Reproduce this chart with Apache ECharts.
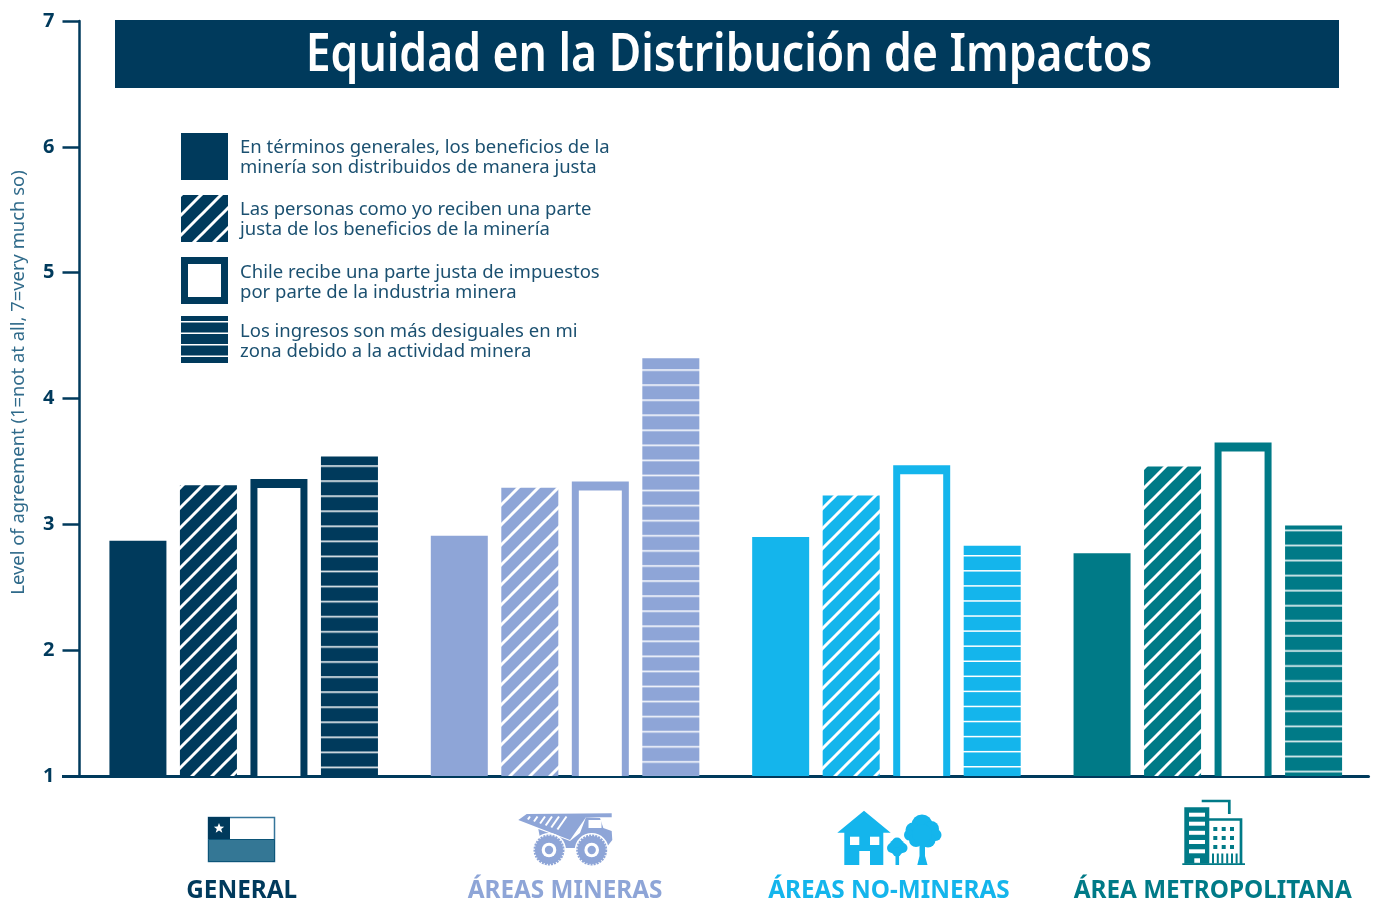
<!DOCTYPE html>
<html>
<head>
<meta charset="utf-8">
<style>html,body{margin:0;padding:0;background:#fff}#chart{width:1376px;height:900px}</style>
<script src="https://cdn.jsdelivr.net/npm/echarts@6/dist/echarts.min.js"></script>
</head>
<body>
<div id="chart"></div>
<script>
const categories = ['GENERAL', 'ÁREAS MINERAS', 'ÁREAS NO-MINERAS', 'ÁREA METROPOLITANA']
const groupColors = ['#003a5c', '#8ea5d7', '#14b5ec', '#007a87']
const solidValues = [2.87, 2.91, 2.90, 2.77]
const diagonalValues = [3.31, 3.29, 3.23, 3.46]
const hollowValues = [3.36, 3.34, 3.47, 3.65]
const stripedValues = [3.54, 4.32, 2.83, 2.99]
const legendLines = [
  ['En términos generales, los beneficios de la', 'minería son distribuidos de manera justa'],
  ['Las personas como yo reciben una parte', 'justa de los beneficios de la minería'],
  ['Chile recibe una parte justa de impuestos', 'por parte de la industria minera'],
  ['Los ingresos son más desiguales en mi', 'zona debido a la actividad minera']
]
const yTicks = [1, 2, 3, 4, 5, 6, 7]
// where the hatching of each group starts
const diagonalPhases = [8, 6, 11, 12]
const stripePhases = [465.3, 369.3, 555, 529.6]

const navy = '#003a5c'
const font = '"Noto Sans", sans-serif'

function diagonalPattern(color, phase) {
  const c = document.createElement('canvas')
  c.width = 20
  c.height = 20
  const ctx = c.getContext('2d')
  ctx.fillStyle = color
  ctx.fillRect(0, 0, 20, 20)
  ctx.strokeStyle = '#fff'
  ctx.lineWidth = 3
  ;[[-10, 10, 10, -10], [0, 20, 20, 0], [10, 30, 30, 10]].forEach(l => {
    ctx.beginPath()
    ctx.moveTo(l[0], l[1])
    ctx.lineTo(l[2], l[3])
    ctx.stroke()
  })
  return { image: c, repeat: 'repeat', x: phase, y: 0 }
}

function stripePattern(color, phase, period, count) {
  const c = document.createElement('canvas')
  c.width = 10
  c.height = Math.round(period * count)
  const ctx = c.getContext('2d')
  ctx.fillStyle = color
  ctx.fillRect(0, 0, 10, c.height)
  ctx.fillStyle = '#fff'
  for (let i = 0; i < count; i++) ctx.fillRect(0, i * c.height / count, 10, 1.5)
  return { image: c, repeat: 'repeat', x: 0, y: phase }
}

const diagonals = groupColors.map((c, i) => diagonalPattern(c, diagonalPhases[i]))
const stripes = groupColors.map((c, i) => stripePattern(c, stripePhases[i], 15.07, 14))

function coloured(values, fills) {
  return values.map((v, i) => ({ value: v, itemStyle: { color: fills[i] } }))
}

// inner white part of the outlined bars
function renderHollow(params, api) {
  const top = api.coord([api.value(0), api.value(1)])
  const base = api.coord([api.value(0), 1])
  const wall = 7
  const left = top[0] + 35.25 - 28.5 + wall
  return {
    type: 'rect',
    shape: { x: left, y: top[1] + 9, width: 57 - wall * 2, height: base[1] - top[1] - 9 },
    style: { fill: '#fff' }
  }
}

function legendGraphics() {
  const tops = [133, 195, 257, 316]
  const textShift = [5, 5, 6, 6]
  // patterns of graphic rects are anchored at the rect itself
  const fills = [navy, diagonalPattern(navy, 0), navy, stripePattern(navy, 5, 11.5, 4)]
  const out = []
  tops.forEach((y, i) => {
    out.push({ type: 'rect', x: 181, y: y, shape: { width: 47, height: 47 }, style: { fill: fills[i] } })
    if (i === 2) out.push({ type: 'rect', x: 188, y: y + 7, shape: { width: 33, height: 33 }, style: { fill: '#fff' } })
    legendLines[i].forEach((t, j) => {
      out.push({ type: 'text', x: 240, y: y + textShift[i] + j * 20, style: { text: t, fill: '#1b5070', font: '18.5px ' + font } })
    })
  })
  return out
}

function rects(list, fill) {
  return list.map(r => ({ type: 'rect', x: r[0], y: r[1], shape: { width: r[2], height: r[3] }, style: { fill: fill } }))
}

function circles(list, fill) {
  return list.map(r => ({ type: 'circle', shape: { cx: r[0], cy: r[1], r: r[2] }, style: { fill: fill } }))
}

function flagIcon() {
  return [
    { type: 'rect', x: 208.5, y: 817.5, shape: { width: 66, height: 44 }, style: { fill: '#fff', stroke: '#34759a', lineWidth: 1.5 } },
    { type: 'rect', x: 208, y: 817, shape: { width: 22, height: 22 }, style: { fill: groupColors[0] } },
    { type: 'rect', x: 208.5, y: 839.5, shape: { width: 66, height: 22 }, style: { fill: '#347795', stroke: '#0c5578', lineWidth: 1 } },
    { type: 'polygon', shape: { points: [[219, 823], [220.4, 826.6], [224.2, 826.7], [221.2, 829], [222.3, 832.7], [219, 830.6], [215.7, 832.7], [216.8, 829], [213.8, 826.7], [217.6, 826.6]] }, style: { fill: '#fff' } }
  ]
}

function truckIcon() {
  const c = groupColors[1]
  const slats = [[530, 816.5, 3], [537.5, 816.5, 5], [545, 816.5, 7], [552, 816.5, 9], [559, 816.5, 11], [566.5, 816.5, 13]]
  const out = [
    { type: 'polygon', shape: { points: [[526.7, 814], [611.7, 813.3], [611.7, 817.3], [586, 817.3], [570, 840], [518.3, 820]] }, style: { fill: c } },
    { type: 'polygon', shape: { points: [[538.3, 829], [570, 841], [580, 833], [586, 817.3], [600, 818], [603.3, 828], [611.7, 831], [612.3, 840], [606, 848], [578, 848], [560, 848], [540, 838]] }, style: { fill: c } },
    { type: 'rect', x: 588.5, y: 820, shape: { width: 13, height: 8 }, style: { fill: '#fff' } }
  ]
  slats.forEach(s => {
    out.push({ type: 'line', shape: { x1: s[0], y1: s[1], x2: s[0] - s[2] * 0.7, y2: s[1] + s[2] }, style: { stroke: '#fff', lineWidth: 2 } })
  })
  ;[[549, 850], [591.7, 850]].forEach(w => {
    out.push({ type: 'circle', shape: { cx: w[0], cy: w[1], r: 17 }, style: { fill: '#fff' } })
    out.push({ type: 'circle', shape: { cx: w[0], cy: w[1], r: 14 }, style: { fill: c, stroke: c, lineWidth: 3, lineDash: [2, 1] } })
    out.push({ type: 'circle', shape: { cx: w[0], cy: w[1], r: 7.3 }, style: { fill: '#fff' } })
    out.push({ type: 'circle', shape: { cx: w[0], cy: w[1], r: 4.2 }, style: { fill: c } })
  })
  return out
}

function houseIcon() {
  const c = groupColors[2]
  return [
    { type: 'polygon', shape: { points: [[864, 810.7], [890.7, 832.7], [883.3, 832.7], [883.3, 865], [870, 865], [870, 851], [859.3, 851], [859.3, 865], [844.3, 865], [844.3, 832.7], [837.3, 832.7]] }, style: { fill: c } }
  ].concat(
    rects([[850, 836.7, 9.3, 8.3], [870, 836.7, 9.3, 8.3]], '#fff'),
    circles([[897, 847, 8], [892, 848, 5], [902.5, 848, 5], [897, 842.5, 5], [897, 852, 4.5]], c),
    rects([[895.5, 850, 3.6, 15]], c),
    circles([[922, 825, 10.5], [913, 830, 7.5], [931, 829, 8], [909.5, 835, 5.5], [935.5, 835, 6], [916, 840, 7], [928, 840, 7.5], [922, 834, 10]], c),
    [{ type: 'polygon', shape: { points: [[919.5, 838], [925, 838], [925, 856], [927.5, 865], [917.3, 865], [919.5, 856]] }, style: { fill: c } }]
  )
}

function buildingIcon() {
  const c = groupColors[3]
  const windows = []
  ;[827, 836, 845].forEach(y => {
    ;[1213.3, 1221.7, 1230].forEach(x => windows.push([x, y, 4, 4]))
  })
  ;[1212, 1216.8, 1221.3, 1226.2, 1231, 1235.6].forEach(x => windows.push([x, 853.5, 2, 10]))
  return rects([[1184.3, 807.3, 25, 56.5]], c).concat(
    rects([[1189, 812.7, 16, 4], [1189, 821.7, 16, 4], [1189, 830.8, 16, 4], [1189, 840, 16, 4], [1189, 849.3, 16, 4], [1194.3, 858.3, 5.7, 4.5]], '#fff'),
    [
      { type: 'polyline', shape: { points: [[1201.7, 801], [1229.3, 801], [1229.3, 814]] }, style: { fill: 'none', stroke: c, lineWidth: 2.7 } },
      { type: 'polyline', shape: { points: [[1209, 819.5], [1241, 819.5], [1241, 864]] }, style: { fill: 'none', stroke: c, lineWidth: 2.7 } }
    ],
    rects(windows, c),
    rects([[1182.3, 863.3, 62.7, 1.8]], c)
  )
}

const chart = echarts.init(document.getElementById('chart'), null, { renderer: 'canvas' })

chart.setOption({
  animation: false,
  backgroundColor: '#fff',
  grid: { left: 83, top: 21, width: 1285.5, height: 755, outerBoundsMode: 'none' },
  xAxis: {
    type: 'category',
    data: categories,
    position: 'bottom',
    axisLine: { lineStyle: { color: navy, width: 3 } },
    axisTick: { show: false },
    axisLabel: {
      margin: 103,
      interval: 0,
      formatter: (v, i) => '{c' + i + '|' + v + '}',
      rich: {
        c0: { color: groupColors[0], fontFamily: font, fontWeight: 'bold', fontSize: 24.3, padding: [0, 4, 0, 0] },
        c1: { color: groupColors[1], fontFamily: font, fontWeight: 'bold', fontSize: 24.3 },
        c2: { color: groupColors[2], fontFamily: font, fontWeight: 'bold', fontSize: 24.3, padding: [0, 0, 0, 5] },
        c3: { color: groupColors[3], fontFamily: font, fontWeight: 'bold', fontSize: 24.3, padding: [0, 0, 0, 10] }
      }
    }
  },
  yAxis: {
    type: 'value',
    min: yTicks[0],
    max: yTicks[yTicks.length - 1],
    interval: 1,
    offset: 3.5,
    name: 'Level of agreement (1=not at all, 7=very much so)',
    nameLocation: 'middle',
    nameGap: 52,
    nameTextStyle: { color: '#2f6a8a', fontFamily: font, fontSize: 18.4, padding: [0, 0, 0, 32] },
    axisLine: { show: true, lineStyle: { color: navy, width: 2.5 } },
    axisTick: { show: true, length: 17, lineStyle: { color: navy, width: 2.5 } },
    axisLabel: { margin: 25, color: navy, fontFamily: font, fontWeight: 'bold', fontSize: 20 },
    splitLine: { show: false }
  },
  series: [
    { name: 'Distribución justa', type: 'bar', barWidth: 57, barGap: '23.7%', data: coloured(solidValues, groupColors) },
    { name: 'Parte justa personal', type: 'bar', barWidth: 57, barGap: '23.7%', data: coloured(diagonalValues, diagonals) },
    { name: 'Parte justa de impuestos', type: 'bar', barWidth: 57, barGap: '23.7%', data: coloured(hollowValues, groupColors) },
    { name: 'Ingresos desiguales', type: 'bar', barWidth: 57, barGap: '23.7%', data: coloured(stripedValues, stripes) },
    {
      type: 'custom',
      renderItem: renderHollow,
      data: hollowValues.map((v, i) => [i, v]),
      encode: { x: 0, y: 1 },
      z: 3
    }
  ],
  graphic: [
    { type: 'rect', x: 115, y: 20, shape: { width: 1224, height: 68 }, style: { fill: navy } },
    { type: 'text', x: 729, y: 56, scaleX: 0.855, style: { text: 'Equidad en la Distribución de Impactos', fill: '#fff', font: '600 52px ' + font, textAlign: 'center', textVerticalAlign: 'middle' } },
    { type: 'rect', x: 62, y: 775, shape: { width: 22, height: 3 }, style: { fill: navy } }
  ].concat(legendGraphics(), flagIcon(), truckIcon(), houseIcon(), buildingIcon())
})
</script>
</body>
</html>
